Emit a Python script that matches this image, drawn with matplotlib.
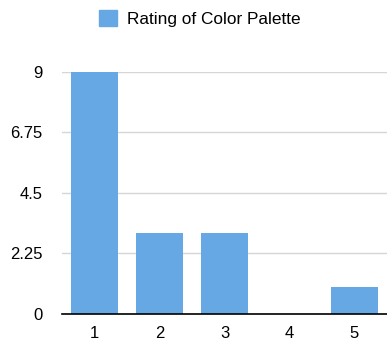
import matplotlib
matplotlib.use("Agg")
import matplotlib.pyplot as plt
from matplotlib.patches import Patch

categories = ["1", "2", "3", "4", "5"]
values = [9, 3, 3, 0, 1]
yticks = [0, 2.25, 4.5, 6.75, 9]
ytick_labels = ["0", "2.25", "4.5", "6.75", "9"]
series_name = "Rating of Color Palette"

plt.rcParams['font.family'] = ['Liberation Sans', 'DejaVu Sans']
color = "#66a8e3"

fig = plt.figure(figsize=(3.87, 3.43), dpi=100)
ax = fig.add_axes([62/387, 1 - 313.7/343, (387-62)/387, (313.7-72)/343])
x = list(range(len(categories)))
ax.bar(x, values, width=0.72, color=color, zorder=2)
ax.set_xlim(-0.5, len(categories) - 0.5)
ax.set_ylim(0, 9)
ax.set_yticks(yticks)
ax.set_yticklabels(ytick_labels)
ax.set_xticks(x)
ax.set_xticklabels(categories)
ax.tick_params(axis='both', length=0, labelsize=12, colors='#000000')
ax.tick_params(axis='y', pad=14)
ax.tick_params(axis='x', pad=9)
ax.yaxis.grid(True, color='#d6d6d6', linewidth=1, zorder=0)
for s in ['top', 'right', 'left']:
    ax.spines[s].set_visible(False)
ax.spines['bottom'].set_color('#000000')
ax.spines['bottom'].set_linewidth(1.2)
ax.spines['bottom'].set_zorder(3)

fig.legend(handles=[Patch(color=color, label=series_name)], loc='center',
           bbox_to_anchor=(200/387, 1 - 18.5/343), frameon=False, fontsize=12.4,
           handlelength=1.0, handleheight=1.0, handletextpad=0.6)
fig.savefig("out.png", dpi=100)
